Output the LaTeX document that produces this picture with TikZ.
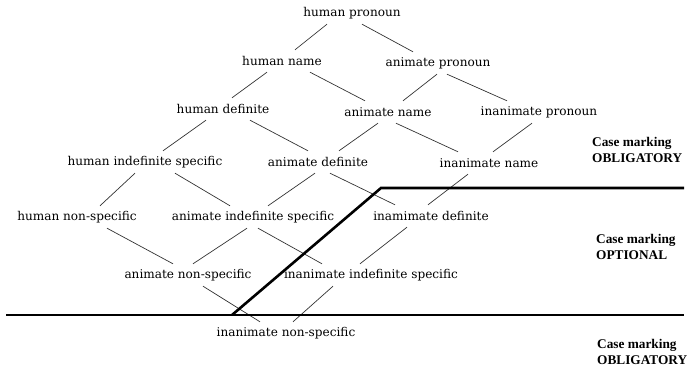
\documentclass[tikz,border=0pt]{standalone}
\usepackage{fontspec}
\setmainfont{DejaVu Serif}
\newfontfamily\labelfont{Liberation Serif}
\begin{document}
\begin{tikzpicture}[x=1pt,y=-1pt,
  cat/.style={inner sep=0pt, minimum height=22pt, font=\fontsize{12.1}{14}\selectfont},
  edge/.style={line width=0.7pt, black!80},
  border/.style={line width=2.6pt, black},
  zone/.style={align=left, anchor=west, inner sep=0pt, font=\labelfont\bfseries\fontsize{13.3}{16}\selectfont}]
\useasboundingbox (0,0) rectangle (688,371);

% hierarchy of noun-phrase types
\node[cat] (hp)  at (352,13)  {human pronoun};
\node[cat] (hn)  at (282,61)  {human name};
\node[cat] (ap)  at (438,63)  {animate pronoun};
\node[cat] (hd)  at (223,109) {human definite};
\node[cat] (an)  at (388,112) {animate name};
\node[cat] (ip)  at (539,112) {inanimate pronoun};
\node[cat] (his) at (145,162) {human indefinite specific};
\node[cat] (ad)  at (318,162) {animate definite};
\node[cat] (in)  at (489,163) {inanimate name};
\node[cat] (hns) at (77,217)  {human non-specific};
\node[cat] (ais) at (253,217) {animate indefinite specific};
\node[cat] (imd) at (431,216) {inamimate definite};
\node[cat] (ans) at (188,275) {animate non-specific};
\node[cat] (iis) at (371,275) {inanimate indefinite specific};
\node[cat] (ins) at (286,333) {inanimate non-specific};

% links between adjacent types
\draw[edge] ([xshift=-25pt]hp.south)  -- ([xshift=13pt]hn.north);
\draw[edge] ([xshift=10pt]hp.south)   -- ([xshift=-25pt]ap.north);
\draw[edge] ([xshift=-15pt]hn.south)  -- ([xshift=9pt]hd.north);
\draw[edge] ([xshift=28pt]hn.south)   -- ([xshift=-23pt]an.north);
\draw[edge] ([xshift=-1pt]ap.south)   -- ([xshift=15pt]an.north);
\draw[edge] ([xshift=9pt]ap.south)    -- ([xshift=-32pt]ip.north);
\draw[edge] ([xshift=-17pt]hd.south)  -- ([xshift=18pt]his.north);
\draw[edge] ([xshift=27pt]hd.south)   -- ([xshift=-10pt]ad.north);
\draw[edge] ([xshift=-10pt]an.south)  -- ([xshift=21pt]ad.north);
\draw[edge] ([xshift=8pt]an.south)    -- ([xshift=-31pt]in.north);
\draw[edge] ([xshift=-7pt]ip.south)   -- ([xshift=4pt]in.north);
\draw[edge] ([xshift=-10pt]his.south) -- ([xshift=23pt]hns.north);
\draw[edge] ([xshift=30pt]his.south)  -- ([xshift=-23pt]ais.north);
\draw[edge] ([xshift=-3pt]ad.south)   -- ([xshift=15pt]ais.north);
\draw[edge] ([xshift=12pt]ad.south)   -- ([xshift=-36pt]imd.north);
\draw[edge] ([xshift=-21pt]in.south)  -- ([xshift=-3pt]imd.north);
\draw[edge] ([xshift=30pt]hns.south)  -- ([xshift=-15pt]ans.north);
\draw[edge] ([xshift=-6pt]ais.south)  -- ([xshift=5pt]ans.north);
\draw[edge] ([xshift=5pt]ais.south)   -- ([xshift=-49pt]iis.north);
\draw[edge] ([xshift=-24pt]imd.south) -- ([xshift=-11pt]iis.north);
\draw[edge] ([xshift=15pt]ans.south)  -- ([xshift=-26pt]ins.north);
\draw[edge] ([xshift=-38pt]iis.south) -- ([xshift=7pt]ins.north);

% zone boundaries
\coordinate (ua) at (684,188);
\coordinate (ub) at (381,188);
\coordinate (uc) at (232,315);
\coordinate (la) at (6,315);
\coordinate (lb) at (684,315);
\draw[border] (ua) -- (ub) -- (uc);
\draw[border] (la) -- (lb);

% zone labels
\node[zone] (z1) at (592,150) {Case marking\\OBLIGATORY};
\node[zone] (z2) at (596,247) {Case marking\\OPTIONAL};
\node[zone] (z3) at (597,352) {Case marking\\OBLIGATORY};
\end{tikzpicture}
\end{document}
